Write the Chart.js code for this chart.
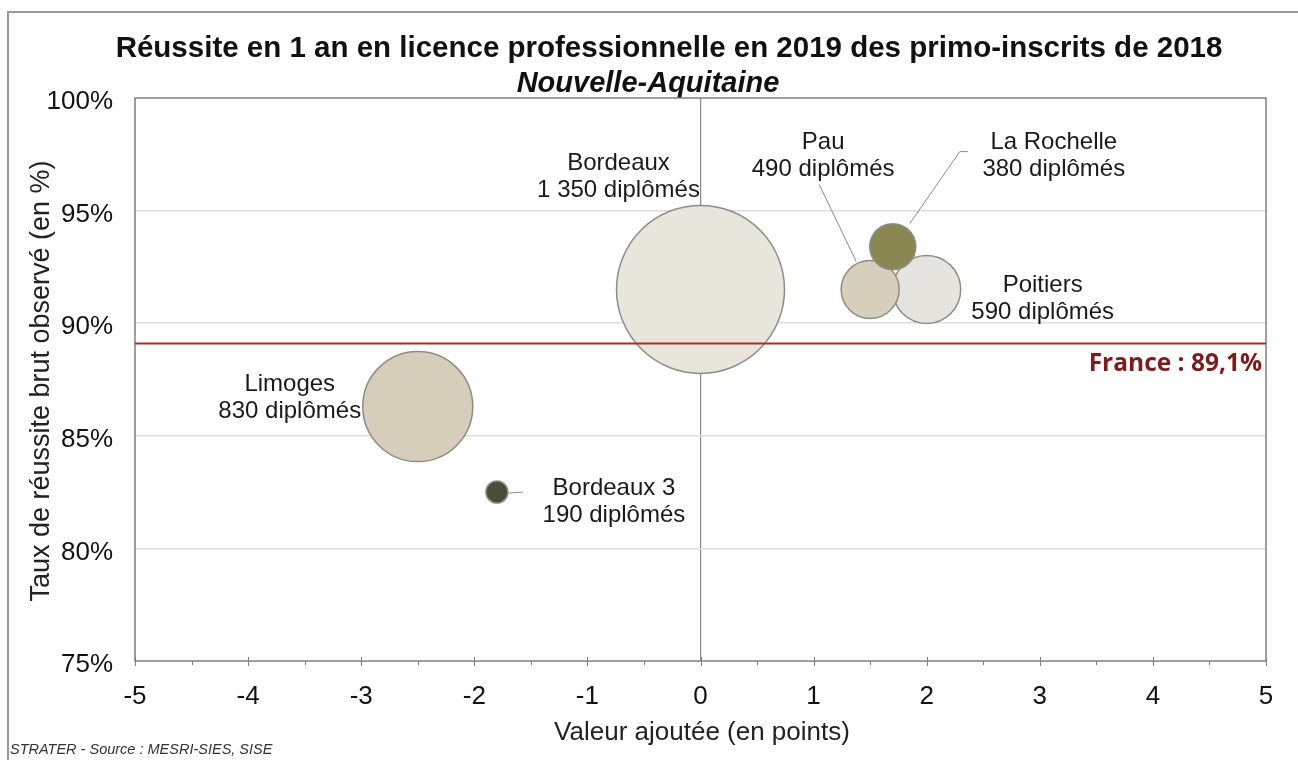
<!DOCTYPE html>
<html>
<head>
<meta charset="utf-8">
<script src="https://cdn.jsdelivr.net/npm/chart.js@4.4.1/dist/chart.umd.min.js"></script>
<style>
  html, body { margin: 0; padding: 0; background: #ffffff; }
  #wrap { position: relative; width: 1298px; height: 760px; }
  canvas { display: block; }
</style>
</head>
<body>
<div id="wrap"><canvas id="c" width="1298" height="760"></canvas></div>
<script>
// ---- Data ----
const universities = ['Bordeaux', 'Limoges', 'Poitiers', 'Pau', 'La Rochelle', 'Bordeaux 3'];
const valueAdded   = [0.0, -2.5, 2.0, 1.5, 1.7, -1.8];          // points
const successRate  = [91.5, 86.3, 91.5, 91.5, 93.4, 82.5];      // %
const graduates    = ['1 350', '830', '590', '490', '380', '190'];
const bubbleRadius = [84, 55, 34, 29, 23, 11];                   // bubble size as drawn
const franceRate   = 89.1;
const xTicks = [-5, -4, -3, -2, -1, 0, 1, 2, 3, 4, 5];
const yTicks = [75, 80, 85, 90, 95, 100];

// ---- Styles ----
const fillColors = ['#e7e5dc', '#d6cdba', '#e5e4de', '#d5cfbb', '#8a8753', '#4b4c3a'];
const FONT = "'Liberation Sans', Arial, sans-serif";

// label placement (pixel offsets from bubble centre) and leader lines
const labelLayout = [
  { dx: -82, dy: [-126, -99], leader: null },
  { dx: -128, dy: [-22, 5], leader: null },
  { dx: 116, dy: [-4, 23], leader: null },
  { dx: -47, dy: [-147, -120], leader: [[-51, -105], [-14, -28]] },
  { dx: 161, dy: [-104, -77], leader: [[75, -95], [67, -95], [17, -23]] },
  { dx: 117, dy: [-4, 23], leader: [[11, 1], [26, 0]] }
];

const PLOT = { left: 135, right: 1266, top: 98, bottom: 661 };

const decorPlugin = {
  id: 'decor',
  beforeDraw(chart) {
    const ctx = chart.ctx;
    ctx.save();
    ctx.fillStyle = '#ffffff';
    ctx.fillRect(0, 0, chart.width, chart.height);
    // outer frame (top + left only visible)
    ctx.strokeStyle = '#9a9a9a';
    ctx.lineWidth = 2;
    ctx.beginPath();
    ctx.moveTo(8, 760); ctx.lineTo(8, 12); ctx.lineTo(1298, 12);
    ctx.stroke();
    // titles
    ctx.fillStyle = '#111111';
    ctx.textAlign = 'center';
    ctx.textBaseline = 'middle';
    ctx.font = "bold 29.5px " + FONT;
    ctx.fillText('Réussite en 1 an en licence professionnelle en 2019 des primo-inscrits de 2018', 669, 49);
    ctx.font = "italic bold 29px " + FONT;
    ctx.fillText('Nouvelle-Aquitaine', 648, 84);
    // axis titles
    ctx.font = "26px " + FONT;
    ctx.fillStyle = '#222222';
    ctx.fillText('Valeur ajoutée (en points)', 702, 733);
    ctx.save();
    ctx.translate(42, 381);
    ctx.rotate(-Math.PI / 2);
    ctx.font = "27px " + FONT;
    ctx.fillText('Taux de réussite brut observé (en %)', 0, 0);
    ctx.restore();
    // source
    ctx.textAlign = 'left';
    ctx.font = "italic 14.5px " + FONT;
    ctx.fillStyle = '#333333';
    ctx.fillText('STRATER - Source : MESRI-SIES, SISE', 10, 750);
    ctx.restore();
  },
  afterDatasetsDraw(chart) {
    const ctx = chart.ctx;
    const xs = chart.scales.x, ys = chart.scales.y;
    const a = chart.chartArea;
    ctx.save();
    // plot border
    ctx.strokeStyle = '#7f7f7f';
    ctx.lineWidth = 1.5;
    ctx.strokeRect(a.left, a.top, a.right - a.left, a.bottom - a.top);
    // x axis tick marks (major cross, minor below)
    ctx.lineWidth = 1;
    ctx.beginPath();
    for (let v = -5; v <= 5.001; v += 0.5) {
      const px = Math.round(xs.getPixelForValue(v)) + 0.5;
      const major = Math.abs(v - Math.round(v)) < 1e-6;
      ctx.moveTo(px, a.bottom - (major ? 4 : 0));
      ctx.lineTo(px, a.bottom + (major ? 5 : 4));
    }
    ctx.stroke();
    // France reference line
    const fy = ys.getPixelForValue(franceRate);
    ctx.strokeStyle = '#a8301f';
    ctx.lineWidth = 2;
    ctx.beginPath();
    ctx.moveTo(a.left, fy); ctx.lineTo(a.right, fy);
    ctx.stroke();
    ctx.fillStyle = '#7d1c1c';
    ctx.font = "bold 24.5px 'Open Sans', " + FONT;
    ctx.textAlign = 'right';
    ctx.textBaseline = 'middle';
    ctx.fillText('France : ' + String(franceRate).replace('.', ',') + '%', a.right - 4, fy + 21);
    // bubble labels and leader lines
    ctx.font = "24px " + FONT;
    ctx.fillStyle = '#1a1a1a';
    ctx.textAlign = 'center';
    universities.forEach((name, i) => {
      const cx = xs.getPixelForValue(valueAdded[i]);
      const cy = ys.getPixelForValue(successRate[i]);
      const L = labelLayout[i];
      ctx.fillText(name, cx + L.dx, cy + L.dy[0]);
      ctx.fillText(graduates[i] + ' diplômés', cx + L.dx, cy + L.dy[1]);
      if (L.leader) {
        ctx.strokeStyle = '#8a8a8a';
        ctx.lineWidth = 1;
        ctx.beginPath();
        L.leader.forEach((p, k) => {
          if (k === 0) ctx.moveTo(cx + p[0], cy + p[1]);
          else ctx.lineTo(cx + p[0], cy + p[1]);
        });
        ctx.stroke();
      }
    });
    ctx.restore();
  }
};

const points = universities.map((u, i) => ({ x: valueAdded[i], y: successRate[i], r: bubbleRadius[i] }));

const chart = new Chart(document.getElementById('c'), {
  type: 'bubble',
  data: {
    datasets: [{
      label: 'Universités',
      data: points,
      backgroundColor: fillColors,
      borderColor: '#8e8d84',
      borderWidth: 1.5,
      hoverRadius: 0
    }]
  },
  options: {
    responsive: false,
    animation: false,
    events: [],
    layout: { autoPadding: false, padding: { top: PLOT.top, right: 1298 - PLOT.right, left: 0, bottom: 0 } },
    plugins: { legend: { display: false }, title: { display: false }, tooltip: { enabled: false } },
    scales: {
      x: {
        type: 'linear', min: -5, max: 5,
        afterFit(s) { s.height = 760 - PLOT.bottom; },
        afterBuildTicks(s) { s.ticks = xTicks.map(v => ({ value: v })); },
        grid: {
          drawTicks: false,
          color: ctx => (ctx.tick && ctx.tick.value === 0) ? '#8a8a8a' : 'rgba(0,0,0,0)',
          lineWidth: 1.2
        },
        border: { display: false },
        ticks: { padding: 20, color: '#111111', font: { family: FONT, size: 26 } }
      },
      y: {
        type: 'linear', min: 75, max: 100,
        afterFit(s) { s.width = PLOT.left; },
        afterBuildTicks(s) { s.ticks = yTicks.map(v => ({ value: v })); },
        grid: {
          drawTicks: false,
          color: ctx => (ctx.tick && (ctx.tick.value === 75 || ctx.tick.value === 100)) ? 'rgba(0,0,0,0)' : '#dedede',
          lineWidth: 1.5
        },
        border: { display: false },
        ticks: { padding: 22, labelOffset: 4, color: '#111111', font: { family: FONT, size: 26 }, callback: v => v + '%' }
      }
    }
  },
  plugins: [decorPlugin]
});
</script>
</body>
</html>
